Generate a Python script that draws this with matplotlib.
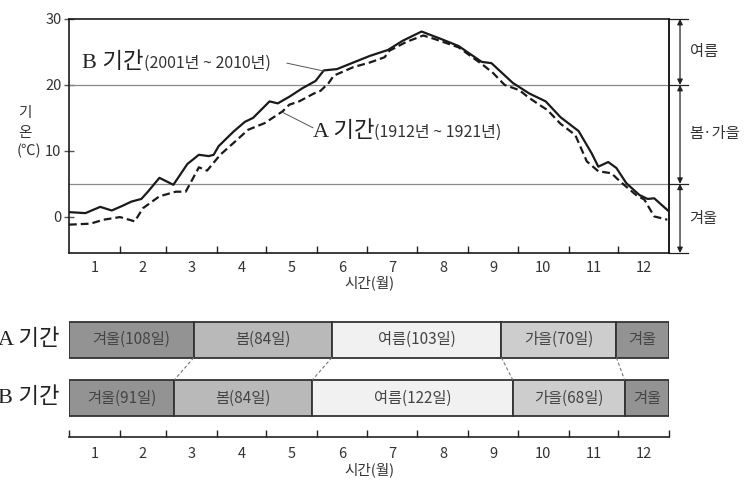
import numpy as np
import matplotlib
matplotlib.use("Agg")
import matplotlib.pyplot as plt

plt.rcParams['font.family'] = ['Noto Sans CJK KR', 'DejaVu Sans']

# calendar
month_days = [31, 28, 31, 30, 31, 30, 31, 31, 30, 31, 30, 31]
month_labels = [str(m) for m in range(1, 13)]

# B period (2001-2010), solid line: day of year, temperature
b_day = [0, 10, 19, 26, 32, 38, 44, 48, 55, 63.5, 72, 79, 85, 88, 91, 100, 107, 112, 122, 127, 134, 142,
         150, 155, 163, 173, 183, 194, 203, 214.5, 226, 237, 251, 257, 270, 280, 290, 299, 310, 318, 322,
         328, 333, 339, 347, 352, 356, 365]
b_temp = [0.7, 0.55, 1.5, 0.95, 1.6, 2.3, 2.7, 3.8, 5.9, 4.85, 8.0, 9.4, 9.2, 9.4, 10.7, 12.9, 14.4, 15.0,
          17.5, 17.2, 18.2, 19.5, 20.6, 22.2, 22.4, 23.4, 24.4, 25.3, 26.7, 28.1, 27.0, 25.9, 23.5, 23.3,
          20.3, 18.7, 17.5, 15.1, 13.0, 9.6, 7.6, 8.3, 7.4, 5.1, 3.3, 2.7, 2.8, 0.8]

# A period (1912-1921), dashed line
a_day = [0, 13, 21, 31, 40, 45, 55, 65, 71, 76, 79, 84, 92, 101, 109, 119, 130, 134, 140, 149, 153, 158,
         161, 173, 183, 192, 195, 205, 215.5, 222, 237, 252, 258, 265, 274, 279, 286, 291, 299, 308, 315,
         322, 330, 335, 345, 350, 356, 364]
a_temp = [-1.2, -1.05, -0.45, -0.05, -0.7, 1.3, 3.1, 3.8, 3.8, 6.1, 7.5, 7.0, 9.4, 11.4, 13.2, 14.2, 16.0,
          17.0, 17.5, 18.7, 19.1, 20.3, 21.4, 22.7, 23.4, 24.2, 25.2, 26.5, 27.5, 27.0, 25.7, 23.0, 21.8,
          20.0, 19.2, 18.2, 17.0, 16.2, 14.1, 12.4, 8.4, 6.9, 6.6, 5.4, 3.3, 2.6, 0.05, -0.45]

# season thresholds
season_lines = [20, 5]

# season lengths (days) in the bar strip
season_names = ['겨울', '봄', '여름', '가을', '겨울']
a_season_days = [76, 84, 103, 70, 32]
b_season_days = [64, 84, 122, 68, 27]
a_season_labels = ['겨울(108일)', '봄(84일)', '여름(103일)', '가을(70일)', '겨울']
b_season_labels = ['겨울(91일)', '봄(84일)', '여름(122일)', '가을(68일)', '겨울']
season_colors = {'겨울': '#939393', '봄': '#b9b9b9', '여름': '#f1f1f1', '가을': '#cdcdcd'}

W, H = 756, 480
fig = plt.figure(figsize=(W / 100, H / 100), dpi=100)
txt = '#333333'

edges = np.concatenate([[0], np.cumsum(month_days)])
centers = (edges[:-1] + edges[1:]) / 2

# ---------------- top chart ----------------
ax = fig.add_axes([69 / W, 1 - 253 / H, 600 / W, 234 / H])
ax.set_xlim(0, 365)
ax.set_ylim(-5.5, 30)
for y in season_lines:
    ax.axhline(y, color='#8a8a8a', lw=0.9)
ax.plot(b_day, b_temp, color='#1a1a1a', lw=1.6)
ax.plot(a_day, a_temp, color='#1a1a1a', lw=1.6, ls=(0, (3.5, 1.8)))

ax.set_xticks(edges[1:-1])
ax.set_xticklabels([])
ax.set_xticks(centers, minor=True)
ax.set_xticklabels(month_labels, minor=True, color=txt, fontsize=10.5)
ax.tick_params(axis='x', which='major', direction='in', length=5, width=1, color='#222')
ax.tick_params(axis='x', which='minor', length=0, pad=6)
ax.set_yticks([0, 10, 20, 30])
ax.set_yticklabels(['0', '10', '20', '30'], color=txt, fontsize=10.5)
ax.tick_params(axis='y', direction='inout', length=7, width=1, color='#555', pad=2)
ax.set_xlabel('시간(월)', color=txt, fontsize=10.5, labelpad=0)
for s in ax.spines.values():
    s.set_color('#1a1a1a')
    s.set_linewidth(1.2)
ax.spines['right'].set_linewidth(1.4)

fig.text(25 / W, 1 - 113 / H, '기', color=txt, fontsize=10.5, ha='center', va='center')
fig.text(25 / W, 1 - 133 / H, '온', color=txt, fontsize=10.5, ha='center', va='center')
fig.text(41 / W, 1 - 151 / H, '(℃)', color=txt, fontsize=10.5, ha='right', va='center')

# curve captions
big = ['Liberation Serif', 'Noto Sans CJK KR']
tb = fig.text(82 / W, 1 - 63 / H, 'B 기간', family=big, fontsize=16, color='#222', va='center')
ax.annotate('(2001년 ~ 2010년)', xy=(1, 0.5), xycoords=tb, va='center', fontsize=11.5, color=txt)
ax.plot([132.6, 155.1], [23.3, 22.1], color='#555', lw=0.7)
ta = fig.text(313 / W, 1 - 132 / H, 'A 기간', family=big, fontsize=16, color='#222', va='center')
ax.annotate('(1912년 ~ 1921년)', xy=(1, 0.5), xycoords=ta, va='center', fontsize=11.5, color=txt)
ax.plot([148.4, 130.2], [13.5, 15.8], color='#555', lw=0.7)

# season brackets on the right
bx = 371.7
bounds = [30, 20, 5, -5.5]
for y in bounds:
    ax.plot([365, 376.5], [y, y], color='#222', lw=0.9, clip_on=False)
for top, bot in zip(bounds[:-1], bounds[1:]):
    ax.annotate('', xy=(bx, top), xytext=(bx, bot), annotation_clip=False,
                arrowprops=dict(arrowstyle='<|-|>', color='#222', lw=0.9,
                                mutation_scale=8, shrinkA=0, shrinkB=0))
ax.text(377.5, 25, '여름', color=txt, fontsize=11, va='center', clip_on=False)
ax.text(377.5, 12.7, '봄·가을', color=txt, fontsize=11, va='center', clip_on=False)
ax.text(377.5, -0.3, '겨울', color=txt, fontsize=11, va='center', clip_on=False)

# ---------------- bar strip ----------------
ax2 = fig.add_axes([69 / W, 1 - 437 / H, 600 / W, 119 / H])
ax2.set_xlim(0, 365)
ax2.set_ylim(0, 119)
rows = [(97.5, a_season_days, a_season_labels, 'A 기간'),
        (39, b_season_days, b_season_labels, 'B 기간')]
bar_h = 36
bnds = []
for yc, days, labels, name in rows:
    starts = np.concatenate([[0], np.cumsum(days)[:-1]])
    cols = [season_colors[s] for s in season_names]
    ax2.barh(yc, days, left=starts, height=bar_h, color=cols, edgecolor='#333', lw=1.3)
    for st, d, lab in zip(starts, days, labels):
        ax2.text(st + d / 2, yc, lab, ha='center', va='center', fontsize=11, color='#444')
    ax2.text(-5.5, yc, name, family=big, ha='right', va='center', fontsize=16, color='#222', clip_on=False)
    bnds.append(np.cumsum(days)[:-1])
for xa, xb in zip(bnds[0], bnds[1]):
    ax2.plot([xa, xb], [97.5 - bar_h / 2, 39 + bar_h / 2], color='#777', lw=0.8, ls=(0, (3, 2)))

ax2.set_xticks(edges)
ax2.set_xticklabels([])
ax2.set_xticks(centers, minor=True)
ax2.set_xticklabels(month_labels, minor=True, color=txt, fontsize=10.5)
ax2.tick_params(axis='x', which='major', direction='in', length=5, width=1, color='#222')
ax2.tick_params(axis='x', which='minor', length=0, pad=7)
ax2.set_yticks([])
ax2.set_xlabel('시간(월)', color=txt, fontsize=10.5, labelpad=1)
for k in ['top', 'left', 'right']:
    ax2.spines[k].set_visible(False)
ax2.spines['bottom'].set_color('#222')
ax2.spines['bottom'].set_linewidth(1.2)

fig.savefig('out.png', dpi=100, facecolor='white')
